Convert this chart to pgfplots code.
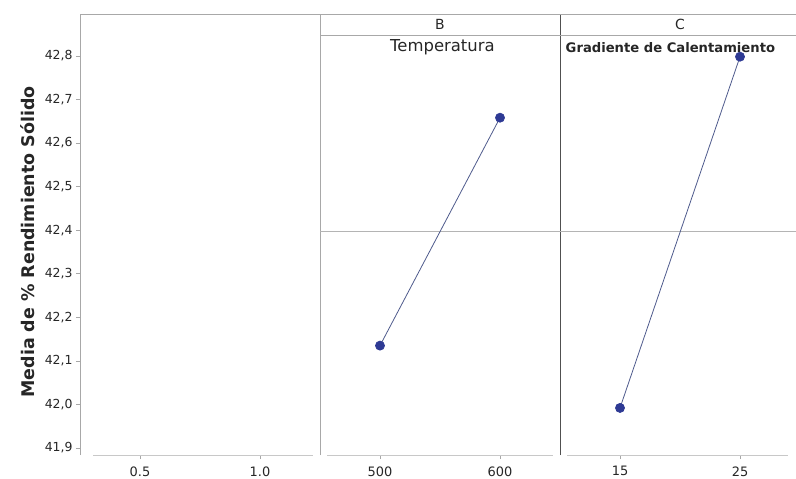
\documentclass[border=0pt]{standalone}
\usepackage{pgfplots}
\pgfplotsset{compat=1.18}
\usepackage{fontspec}
\setmainfont{DejaVu Sans}
\definecolor{frame}{HTML}{A8A8A8}
\definecolor{darkframe}{HTML}{505050}
\definecolor{bottomline}{HTML}{C8C8C8}
\definecolor{refline}{HTML}{B4B4B4}
\definecolor{lineblue}{HTML}{4E5A8C}
\definecolor{markblue}{HTML}{2E3A94}
\pgfplotsset{
  panel/.style={
    scale only axis,
    height=441bp,
    ymin=41.884, ymax=42.896,
    axis line style={draw=none},
    tick align=outside,
    xtick pos=bottom, ytick pos=left,
    major tick length=4bp,
    tick style={frame, line width=0.6bp},
    clip=false,
    ticklabel style={font=\fontsize{12.5}{15}\selectfont, text=black!85},
    xticklabel style={font=\fontsize{13}{15}\selectfont, yshift=-4bp},
    /pgf/number format/assume math mode=true,
    anchor=south west,
  },
}
\begin{document}
\begin{tikzpicture}
\useasboundingbox (0,0) rectangle (796bp,479bp);
% Panel A (empty)
\begin{axis}[panel, at={(80bp,24bp)}, width=240bp,
  xmin=0.25, xmax=1.25,
  xtick={0.5,1.0}, xticklabels={0.5,1.0},
  ytick={41.9,42.0,42.1,42.2,42.3,42.4,42.5,42.6,42.7,42.8},
  yticklabel style={/pgf/number format/.cd, use comma, fixed, fixed zerofill, precision=1},
  ylabel={\bfseries Media de \% Rendimiento Sólido},
  ylabel style={font=\fontsize{17.5}{20}\selectfont, text=black!85, at={(axis description cs:-0.2167,0.483)}, anchor=center},
]
\draw[frame, line width=0.8bp] (rel axis cs:0,0) -- (rel axis cs:0,1) -- (rel axis cs:1,1);
\draw[bottomline, line width=0.8bp] ([xshift=13bp]rel axis cs:0,0) -- ([xshift=-7bp]rel axis cs:1,0);
\end{axis}
% Panel B
\begin{axis}[panel, at={(320bp,24bp)}, width=240bp,
  xmin=450, xmax=650,
  xtick={500,600}, ytick=\empty,
]
\draw[frame, line width=0.8bp] (rel axis cs:0,0) -- (rel axis cs:0,1) -- (rel axis cs:1,1);
\draw[frame, line width=0.8bp] (axis cs:450,42.848) -- (axis cs:650,42.848);
\draw[bottomline, line width=0.8bp] ([xshift=7bp]rel axis cs:0,0) -- ([xshift=-7bp]rel axis cs:1,0);
\draw[refline, line width=0.8bp] (axis cs:450,42.396) -- (axis cs:650,42.396);
\node[font=\fontsize{14}{16}\selectfont, text=black!85] at (axis cs:550,42.872) {B};
\node[font=\fontsize{16.5}{18}\selectfont, text=black!85] at (axis cs:552,42.82) {Temperatura};
\addplot[lineblue, line width=0.8bp, mark=*, mark size=4.5bp, mark options={fill=markblue, draw=markblue}]
  coordinates {(500,42.135) (600,42.658)};
\end{axis}
% Panel C
\begin{axis}[panel, at={(560bp,24bp)}, width=236bp,
  xmin=10, xmax=29.667,
  xtick={15,25}, ytick=\empty,
]
\draw[darkframe, line width=0.9bp] (rel axis cs:0,0) -- (rel axis cs:0,1);
\draw[frame, line width=0.8bp] (rel axis cs:0,1) -- (rel axis cs:1,1);
\draw[frame, line width=0.8bp] (axis cs:10,42.848) -- (axis cs:29.667,42.848);
\draw[bottomline, line width=0.8bp] ([xshift=7bp]rel axis cs:0,0) -- ([xshift=-8bp]rel axis cs:1,0);
\draw[refline, line width=0.8bp] (axis cs:10,42.396) -- (axis cs:29.667,42.396);
\node[font=\fontsize{14}{16}\selectfont, text=black!85] at (axis cs:20,42.872) {C};
\node[font=\bfseries\fontsize{13.2}{15}\selectfont, text=black!85] at (axis cs:19.2,42.818) {Gradiente de Calentamiento};
\addplot[lineblue, line width=0.8bp, mark=*, mark size=4.5bp, mark options={fill=markblue, draw=markblue}]
  coordinates {(15,41.992) (25,42.798)};
\end{axis}
\end{tikzpicture}
\end{document}
